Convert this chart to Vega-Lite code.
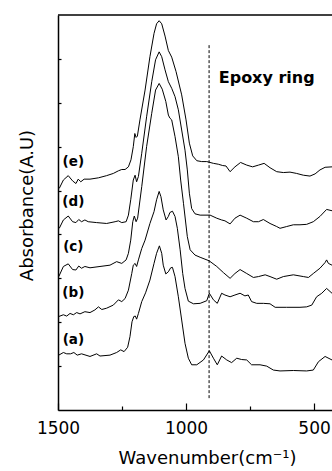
{
  "$schema": "https://vega.github.io/schema/vega-lite/v6.json",
  "width": 274,
  "height": 395,
  "autosize": {"type": "none"},
  "padding": {"left": 58, "top": 15, "right": 0, "bottom": 61},
  "config": {
    "view": {"stroke": null},
    "font": "DejaVu Sans",
    "axis": {"grid": false, "domainColor": "black", "tickColor": "black", "labelColor": "black", "titleColor": "black", "domainWidth": 1.5, "tickWidth": 1.2}
  },
  "datasets": {
    "spectra": [
      {"s":"e","wn":1495,"v":5.05},{"s":"e","wn":1479,"v":5.24},{"s":"e","wn":1460,"v":5.34},{"s":"e","wn":1443,"v":5.22},{"s":"e","wn":1430,"v":5.16},{"s":"e","wn":1421,"v":5.26},{"s":"e","wn":1411,"v":5.2},{"s":"e","wn":1398,"v":5.26},{"s":"e","wn":1375,"v":5.26},{"s":"e","wn":1342,"v":5.29},{"s":"e","wn":1310,"v":5.34},{"s":"e","wn":1284,"v":5.39},{"s":"e","wn":1264,"v":5.45},{"s":"e","wn":1251,"v":5.48},{"s":"e","wn":1238,"v":5.48},{"s":"e","wn":1225,"v":5.54},{"s":"e","wn":1215,"v":5.7},{"s":"e","wn":1206,"v":6.0},{"s":"e","wn":1200,"v":6.3},{"s":"e","wn":1195,"v":6.21},{"s":"e","wn":1190,"v":6.24},{"s":"e","wn":1180,"v":6.61},{"s":"e","wn":1160,"v":7.29},{"s":"e","wn":1141,"v":8.05},{"s":"e","wn":1125,"v":8.58},{"s":"e","wn":1115,"v":8.8},{"s":"e","wn":1105,"v":8.87},{"s":"e","wn":1095,"v":8.8},{"s":"e","wn":1082,"v":8.52},{"s":"e","wn":1069,"v":8.19},{"s":"e","wn":1056,"v":8.04},{"s":"e","wn":1039,"v":7.71},{"s":"e","wn":1017,"v":7.18},{"s":"e","wn":1000,"v":6.61},{"s":"e","wn":987,"v":6.08},{"s":"e","wn":974,"v":5.79},{"s":"e","wn":958,"v":5.68},{"s":"e","wn":939,"v":5.66},{"s":"e","wn":919,"v":5.66},{"s":"e","wn":893,"v":5.62},{"s":"e","wn":874,"v":5.6},{"s":"e","wn":857,"v":5.57},{"s":"e","wn":844,"v":5.56},{"s":"e","wn":828,"v":5.43},{"s":"e","wn":809,"v":5.54},{"s":"e","wn":787,"v":5.64},{"s":"e","wn":763,"v":5.58},{"s":"e","wn":740,"v":5.54},{"s":"e","wn":717,"v":5.58},{"s":"e","wn":695,"v":5.62},{"s":"e","wn":672,"v":5.52},{"s":"e","wn":646,"v":5.43},{"s":"e","wn":620,"v":5.41},{"s":"e","wn":594,"v":5.42},{"s":"e","wn":568,"v":5.39},{"s":"e","wn":542,"v":5.35},{"s":"e","wn":516,"v":5.33},{"s":"e","wn":496,"v":5.38},{"s":"e","wn":477,"v":5.47},{"s":"e","wn":457,"v":5.53},{"s":"e","wn":430,"v":5.54},
      {"s":"d","wn":1495,"v":4.14},{"s":"d","wn":1479,"v":4.33},{"s":"d","wn":1460,"v":4.42},{"s":"d","wn":1443,"v":4.29},{"s":"d","wn":1430,"v":4.27},{"s":"d","wn":1419,"v":4.34},{"s":"d","wn":1408,"v":4.29},{"s":"d","wn":1395,"v":4.33},{"s":"d","wn":1382,"v":4.29},{"s":"d","wn":1349,"v":4.27},{"s":"d","wn":1310,"v":4.25},{"s":"d","wn":1277,"v":4.29},{"s":"d","wn":1264,"v":4.31},{"s":"d","wn":1251,"v":4.27},{"s":"d","wn":1234,"v":4.29},{"s":"d","wn":1225,"v":4.44},{"s":"d","wn":1216,"v":4.79},{"s":"d","wn":1206,"v":5.24},{"s":"d","wn":1199,"v":5.35},{"s":"d","wn":1193,"v":5.2},{"s":"d","wn":1186,"v":5.32},{"s":"d","wn":1173,"v":5.85},{"s":"d","wn":1154,"v":6.68},{"s":"d","wn":1134,"v":7.48},{"s":"d","wn":1119,"v":7.98},{"s":"d","wn":1105,"v":8.16},{"s":"d","wn":1095,"v":8.05},{"s":"d","wn":1082,"v":7.75},{"s":"d","wn":1069,"v":7.48},{"s":"d","wn":1056,"v":7.33},{"s":"d","wn":1043,"v":7.14},{"s":"d","wn":1030,"v":6.84},{"s":"d","wn":1017,"v":6.38},{"s":"d","wn":1004,"v":5.92},{"s":"d","wn":995,"v":5.47},{"s":"d","wn":987,"v":4.94},{"s":"d","wn":978,"v":4.59},{"s":"d","wn":965,"v":4.47},{"s":"d","wn":945,"v":4.44},{"s":"d","wn":906,"v":4.44},{"s":"d","wn":880,"v":4.37},{"s":"d","wn":861,"v":4.33},{"s":"d","wn":848,"v":4.31},{"s":"d","wn":828,"v":4.24},{"s":"d","wn":809,"v":4.37},{"s":"d","wn":789,"v":4.44},{"s":"d","wn":763,"v":4.37},{"s":"d","wn":737,"v":4.29},{"s":"d","wn":717,"v":4.29},{"s":"d","wn":698,"v":4.34},{"s":"d","wn":672,"v":4.25},{"s":"d","wn":646,"v":4.18},{"s":"d","wn":633,"v":4.14},{"s":"d","wn":607,"v":4.18},{"s":"d","wn":581,"v":4.22},{"s":"d","wn":555,"v":4.22},{"s":"d","wn":529,"v":4.23},{"s":"d","wn":503,"v":4.29},{"s":"d","wn":477,"v":4.41},{"s":"d","wn":451,"v":4.57},{"s":"d","wn":430,"v":4.54},
      {"s":"c","wn":1497,"v":3.04},{"s":"c","wn":1479,"v":3.27},{"s":"c","wn":1460,"v":3.33},{"s":"c","wn":1443,"v":3.2},{"s":"c","wn":1430,"v":3.19},{"s":"c","wn":1419,"v":3.28},{"s":"c","wn":1408,"v":3.23},{"s":"c","wn":1395,"v":3.27},{"s":"c","wn":1375,"v":3.24},{"s":"c","wn":1336,"v":3.27},{"s":"c","wn":1297,"v":3.3},{"s":"c","wn":1271,"v":3.38},{"s":"c","wn":1251,"v":3.34},{"s":"c","wn":1234,"v":3.42},{"s":"c","wn":1225,"v":3.57},{"s":"c","wn":1216,"v":3.87},{"s":"c","wn":1208,"v":4.29},{"s":"c","wn":1202,"v":4.42},{"s":"c","wn":1195,"v":4.29},{"s":"c","wn":1189,"v":4.37},{"s":"c","wn":1173,"v":5.09},{"s":"c","wn":1154,"v":6.0},{"s":"c","wn":1134,"v":6.76},{"s":"c","wn":1119,"v":7.29},{"s":"c","wn":1105,"v":7.44},{"s":"c","wn":1093,"v":7.31},{"s":"c","wn":1079,"v":7.03},{"s":"c","wn":1069,"v":6.72},{"s":"c","wn":1063,"v":6.65},{"s":"c","wn":1056,"v":6.61},{"s":"c","wn":1043,"v":6.23},{"s":"c","wn":1030,"v":5.77},{"s":"c","wn":1021,"v":5.24},{"s":"c","wn":1010,"v":4.71},{"s":"c","wn":995,"v":3.95},{"s":"c","wn":984,"v":3.65},{"s":"c","wn":965,"v":3.53},{"s":"c","wn":945,"v":3.48},{"s":"c","wn":910,"v":3.4},{"s":"c","wn":880,"v":3.27},{"s":"c","wn":854,"v":3.13},{"s":"c","wn":828,"v":3.0},{"s":"c","wn":809,"v":3.11},{"s":"c","wn":789,"v":3.2},{"s":"c","wn":763,"v":3.11},{"s":"c","wn":737,"v":3.02},{"s":"c","wn":717,"v":3.04},{"s":"c","wn":691,"v":3.08},{"s":"c","wn":672,"v":3.04},{"s":"c","wn":646,"v":2.98},{"s":"c","wn":620,"v":3.04},{"s":"c","wn":581,"v":3.08},{"s":"c","wn":542,"v":3.04},{"s":"c","wn":522,"v":3.02},{"s":"c","wn":503,"v":3.11},{"s":"c","wn":477,"v":3.23},{"s":"c","wn":457,"v":3.36},{"s":"c","wn":451,"v":3.42},{"s":"c","wn":444,"v":3.34},{"s":"c","wn":430,"v":3.3},
      {"s":"b","wn":1497,"v":2.13},{"s":"b","wn":1479,"v":2.17},{"s":"b","wn":1466,"v":2.14},{"s":"b","wn":1453,"v":2.2},{"s":"b","wn":1440,"v":2.17},{"s":"b","wn":1427,"v":2.22},{"s":"b","wn":1414,"v":2.19},{"s":"b","wn":1395,"v":2.24},{"s":"b","wn":1375,"v":2.22},{"s":"b","wn":1356,"v":2.28},{"s":"b","wn":1342,"v":2.35},{"s":"b","wn":1329,"v":2.29},{"s":"b","wn":1310,"v":2.32},{"s":"b","wn":1284,"v":2.39},{"s":"b","wn":1264,"v":2.51},{"s":"b","wn":1251,"v":2.47},{"s":"b","wn":1238,"v":2.54},{"s":"b","wn":1225,"v":2.73},{"s":"b","wn":1212,"v":3.11},{"s":"b","wn":1206,"v":3.3},{"s":"b","wn":1199,"v":3.34},{"s":"b","wn":1193,"v":3.27},{"s":"b","wn":1186,"v":3.42},{"s":"b","wn":1173,"v":3.68},{"s":"b","wn":1160,"v":3.87},{"s":"b","wn":1141,"v":4.25},{"s":"b","wn":1125,"v":4.52},{"s":"b","wn":1115,"v":4.79},{"s":"b","wn":1105,"v":4.98},{"s":"b","wn":1098,"v":4.86},{"s":"b","wn":1089,"v":4.56},{"s":"b","wn":1078,"v":4.33},{"s":"b","wn":1069,"v":4.41},{"s":"b","wn":1063,"v":4.5},{"s":"b","wn":1053,"v":4.53},{"s":"b","wn":1043,"v":4.41},{"s":"b","wn":1034,"v":4.14},{"s":"b","wn":1023,"v":3.65},{"s":"b","wn":1013,"v":3.11},{"s":"b","wn":1004,"v":2.77},{"s":"b","wn":991,"v":2.48},{"s":"b","wn":971,"v":2.42},{"s":"b","wn":945,"v":2.43},{"s":"b","wn":919,"v":2.49},{"s":"b","wn":909,"v":2.66},{"s":"b","wn":893,"v":2.51},{"s":"b","wn":878,"v":2.43},{"s":"b","wn":861,"v":2.66},{"s":"b","wn":848,"v":2.62},{"s":"b","wn":828,"v":2.58},{"s":"b","wn":809,"v":2.62},{"s":"b","wn":789,"v":2.66},{"s":"b","wn":770,"v":2.6},{"s":"b","wn":757,"v":2.62},{"s":"b","wn":744,"v":2.47},{"s":"b","wn":724,"v":2.43},{"s":"b","wn":698,"v":2.43},{"s":"b","wn":672,"v":2.42},{"s":"b","wn":652,"v":2.34},{"s":"b","wn":607,"v":2.34},{"s":"b","wn":555,"v":2.34},{"s":"b","wn":529,"v":2.35},{"s":"b","wn":509,"v":2.39},{"s":"b","wn":490,"v":2.58},{"s":"b","wn":470,"v":2.66},{"s":"b","wn":451,"v":2.77},{"s":"b","wn":430,"v":2.66},
      {"s":"a","wn":1497,"v":1.25},{"s":"a","wn":1479,"v":1.31},{"s":"a","wn":1466,"v":1.28},{"s":"a","wn":1451,"v":1.28},{"s":"a","wn":1438,"v":1.31},{"s":"a","wn":1425,"v":1.25},{"s":"a","wn":1408,"v":1.28},{"s":"a","wn":1375,"v":1.22},{"s":"a","wn":1349,"v":1.28},{"s":"a","wn":1336,"v":1.23},{"s":"a","wn":1297,"v":1.25},{"s":"a","wn":1271,"v":1.31},{"s":"a","wn":1255,"v":1.37},{"s":"a","wn":1242,"v":1.33},{"s":"a","wn":1228,"v":1.43},{"s":"a","wn":1219,"v":1.67},{"s":"a","wn":1211,"v":2.01},{"s":"a","wn":1204,"v":2.13},{"s":"a","wn":1198,"v":2.14},{"s":"a","wn":1193,"v":2.07},{"s":"a","wn":1186,"v":2.2},{"s":"a","wn":1173,"v":2.47},{"s":"a","wn":1158,"v":2.67},{"s":"a","wn":1141,"v":2.96},{"s":"a","wn":1125,"v":3.34},{"s":"a","wn":1115,"v":3.57},{"s":"a","wn":1104,"v":3.74},{"s":"a","wn":1095,"v":3.57},{"s":"a","wn":1089,"v":3.3},{"s":"a","wn":1079,"v":3.1},{"s":"a","wn":1069,"v":3.15},{"s":"a","wn":1060,"v":3.24},{"s":"a","wn":1053,"v":3.25},{"s":"a","wn":1043,"v":3.04},{"s":"a","wn":1030,"v":2.58},{"s":"a","wn":1017,"v":2.05},{"s":"a","wn":1004,"v":1.52},{"s":"a","wn":991,"v":1.18},{"s":"a","wn":978,"v":1.03},{"s":"a","wn":958,"v":1.03},{"s":"a","wn":932,"v":1.14},{"s":"a","wn":909,"v":1.35},{"s":"a","wn":893,"v":1.18},{"s":"a","wn":878,"v":1.03},{"s":"a","wn":861,"v":1.23},{"s":"a","wn":841,"v":1.14},{"s":"a","wn":822,"v":1.08},{"s":"a","wn":802,"v":1.18},{"s":"a","wn":783,"v":1.15},{"s":"a","wn":763,"v":1.14},{"s":"a","wn":744,"v":1.03},{"s":"a","wn":711,"v":1.03},{"s":"a","wn":685,"v":1.0},{"s":"a","wn":659,"v":0.91},{"s":"a","wn":633,"v":0.89},{"s":"a","wn":581,"v":0.9},{"s":"a","wn":529,"v":0.89},{"s":"a","wn":503,"v":0.91},{"s":"a","wn":483,"v":1.1},{"s":"a","wn":457,"v":1.22},{"s":"a","wn":430,"v":1.14}
    ],
    "labels": [
      {"t":"(e)","wn":1440,"v":5.64},
      {"t":"(d)","wn":1440,"v":4.73},
      {"t":"(c)","wn":1440,"v":3.72},
      {"t":"(b)","wn":1440,"v":2.66},
      {"t":"(a)","wn":1440,"v":1.59}
    ],
    "epoxy": [{"t":"Epoxy ring","wn":685,"v":7.46,"marker":910,"lo":0.27,"hi":8.32}]
  },
  "layer": [
    {
      "data": {"name": "spectra"},
      "mark": {"type": "line", "color": "black", "strokeWidth": 1, "clip": true},
      "encoding": {
        "x": {
          "field": "wn", "type": "quantitative",
          "scale": {"domain": [430, 1500], "reverse": true, "nice": false, "zero": false},
          "axis": {
            "values": [1500, 1250, 1000, 750, 500],
            "format": "d",
            "labelExpr": "datum.value % 500 === 0 ? datum.label : ''",
            "tickSize": {"condition": {"test": "datum.value % 500 === 0", "value": -7}, "value": -4},
            "labelFontSize": 17,
            "labelPadding": 17,
            "labelFlush": false,
            "title": "Wavenumber(cm⁻¹)",
            "titleFontSize": 18,
            "titleFontWeight": "normal",
            "titleX": 149,
            "titleY": 53,
            "titleAlign": "center",
            "titleBaseline": "alphabetic"
          }
        },
        "y": {
          "field": "v", "type": "quantitative",
          "scale": {"domain": [0, 9], "nice": false, "zero": false},
          "axis": {
            "values": [1, 2, 3, 4, 5, 6, 7, 8],
            "labels": false,
            "tickSize": -3,
            "title": "Absorbance(A.U)",
            "titleFontSize": 18,
            "titleFontWeight": "normal",
            "titleAngle": -90,
            "titleX": -26,
            "titleY": 190,
            "titleAlign": "center",
            "titleBaseline": "alphabetic"
          }
        },
        "detail": {"field": "s"}
      }
    },
    {
      "data": {"values": [{"top": 9}]},
      "mark": {"type": "rule", "color": "black", "strokeWidth": 1.5},
      "encoding": {"y": {"field": "top", "type": "quantitative"}}
    },
    {
      "data": {"name": "epoxy"},
      "mark": {"type": "rule", "color": "black", "strokeWidth": 1, "strokeDash": [3, 2]},
      "encoding": {
        "x": {"field": "marker", "type": "quantitative"},
        "y": {"field": "lo", "type": "quantitative"},
        "y2": {"field": "hi"}
      }
    },
    {
      "data": {"name": "epoxy"},
      "mark": {"type": "text", "fontWeight": "bold", "fontSize": 16, "align": "center", "baseline": "alphabetic", "color": "black"},
      "encoding": {
        "x": {"field": "wn", "type": "quantitative"},
        "y": {"field": "v", "type": "quantitative"},
        "text": {"field": "t"}
      }
    },
    {
      "data": {"name": "labels"},
      "mark": {"type": "text", "fontWeight": "bold", "fontSize": 13.5, "align": "center", "baseline": "middle", "color": "black"},
      "encoding": {
        "x": {"field": "wn", "type": "quantitative"},
        "y": {"field": "v", "type": "quantitative"},
        "text": {"field": "t"}
      }
    }
  ]
}
